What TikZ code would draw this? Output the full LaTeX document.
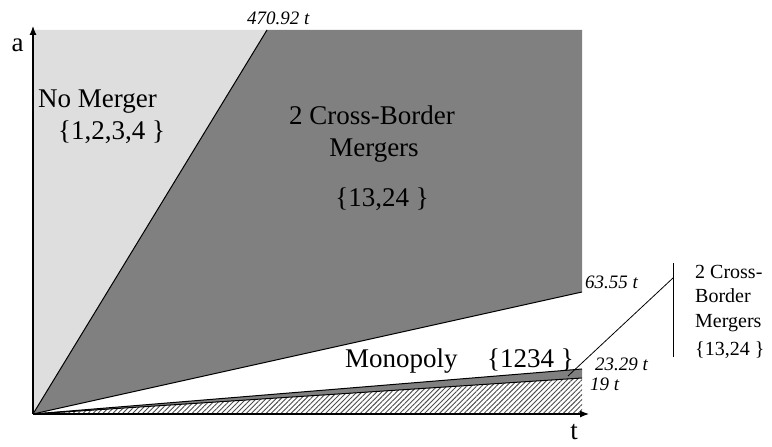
\documentclass[tikz,border=0pt]{standalone}
\usepackage{fontspec}
\setmainfont{Liberation Serif}
\usepackage{tikz}
\usetikzlibrary{arrows.meta, patterns.meta, positioning}
\definecolor{lightregion}{gray}{0.87}
\definecolor{darkregion}{gray}{0.5}

\begin{document}
\begin{tikzpicture}[x=1pt, y=1pt,
              border/.style = {line width=1pt, black},
              axis/.style = {line width=1.2pt, -{Latex[length=9pt, width=7pt]}},
              biglabel/.style = {inner sep=0pt, font=\fontsize{27}{32}\selectfont},
              slopelabel/.style = {inner sep=0pt, font=\fontsize{19}{23}\selectfont\itshape},
              sidelabel/.style = {inner sep=0pt, anchor=base west, font=\fontsize{20}{24}\selectfont}]
  \useasboundingbox (0,0) rectangle (772,447);
  % corner points of the regions
  \coordinate (O) at (33,33);
  \coordinate (ytop) at (33,417);
  \coordinate (p470) at (267,417);
  \coordinate (tr) at (582,417);
  \coordinate (p63) at (582,155);
  \coordinate (p23) at (582,78);
  \coordinate (p19) at (582,69);
  \coordinate (br) at (582,33);
  % regions
  \fill[lightregion] (O) -- (ytop) -- (p470) -- cycle;
  \fill[darkregion] (O) -- (p470) -- (tr) -- (p63) -- cycle;
  \fill[darkregion] (O) -- (p23) -- (p19) -- cycle;
  \fill[pattern={Lines[angle=45, distance=3.5pt, line width=0.9pt]}, pattern color=black!70]
    (O) -- (p19) -- (br) -- cycle;
  % borders
  \draw[border] (O) -- (p470);
  \draw[border] (O) -- (p63);
  \draw[border] (O) -- (p23);
  \draw[border] (O) -- (p19);
  % axes
  \coordinate (yend) at (33,421);
  \coordinate (xend) at (589,33);
  \draw[axis] (O) -- (yend);
  \draw[axis] (O) -- (xend);
  \node[biglabel] (alab) at (17.5,402) {a};
  \node[biglabel, anchor=base] (tlab) at (574,7) {t};
  % slope labels
  \node[slopelabel, anchor=west] (l470) at (247,429) {470.92 t};
  \node[slopelabel, anchor=base west] (l63) at (585,158) {63.55 t};
  \node[slopelabel, anchor=base west] (l23) at (595,76) {23.29 t};
  \node[slopelabel, anchor=base west] (l19) at (590,56) {19 t};
  % region labels
  \node[biglabel, anchor=base west] (nomerger) at (38,339) {No Merger};
  \node[biglabel, anchor=base west] (nmset) at (58,307) {\{1,2,3,4 \}};
  \node[biglabel, anchor=base] (cb1) at (372,322) {2 Cross-Border};
  \node[biglabel, anchor=base] (cb2) at (374,290) {Mergers};
  \node[biglabel, anchor=base] (cbset) at (382,240) {\{13,24 \}};
  \node[biglabel, anchor=base west] (mono) at (345,79) {Monopoly};
  \node[biglabel, anchor=base west] (monoset) at (487,79) {\{1234 \}};
  % side label for the thin wedge
  \coordinate (bartop) at (673,184);
  \coordinate (barbot) at (673,90);
  \coordinate (barjoin) at (673,169);
  \coordinate (wedge) at (568,71);
  \draw[line width=0.8pt] (bartop) -- (barbot);
  \draw[line width=0.8pt] (barjoin) -- (wedge);
  \node[sidelabel] (side1) at (695,168) {2 Cross-};
  \node[sidelabel] (side2) at (695,144) {Border};
  \node[sidelabel] (side3) at (695,119) {Mergers};
  \node[sidelabel] (side4) at (695,91) {\{13,24 \}};
\end{tikzpicture}
\end{document}
